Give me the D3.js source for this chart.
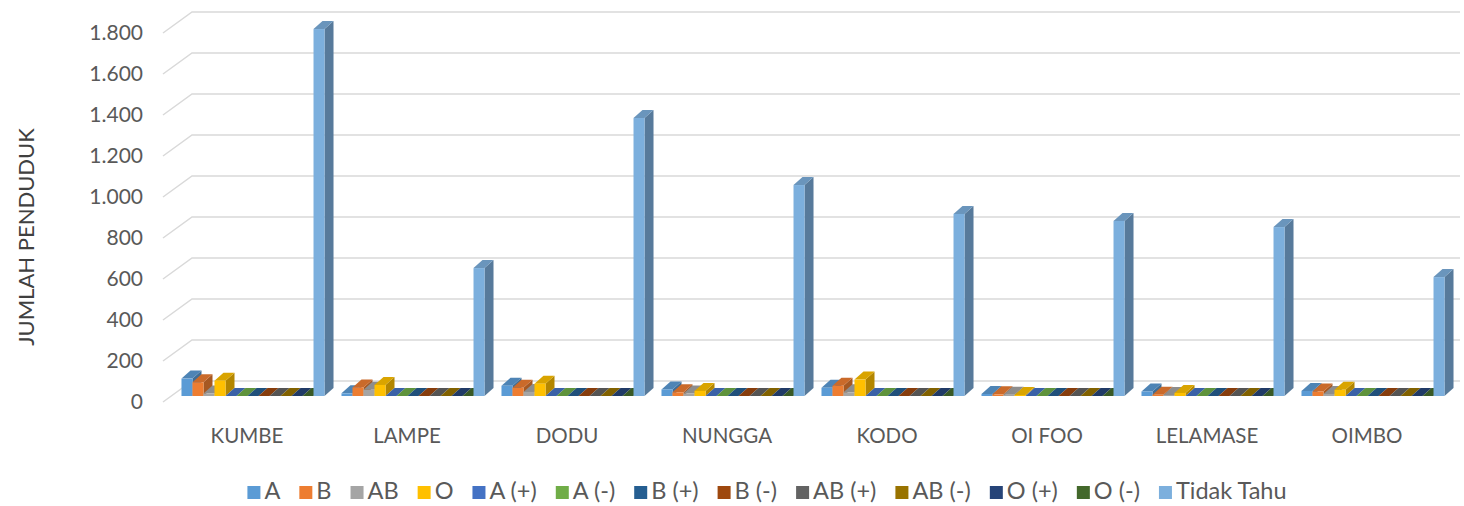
<!DOCTYPE html>
<html><head><meta charset="utf-8">
<script src="https://cdn.jsdelivr.net/npm/d3@7"></script>
<style>body{margin:0;background:#fff;}svg{display:block;font-family:Lato,"Open Sans",sans-serif;}</style>
</head><body>
<svg id="c" width="1464" height="506"></svg>
<script>
const categories = ["KUMBE","LAMPE","DODU","NUNGGA","KODO","OI FOO","LELAMASE","OIMBO"];
const seriesNames = ["A","B","AB","O","A (+)","A (-)","B (+)","B (-)","AB (+)","AB (-)","O (+)","O (-)","Tidak Tahu"];
const seriesColors = ["#5B9BD5","#ED7D31","#A5A5A5","#FFC000","#4472C4","#70AD47","#255E91","#9E480E","#636363","#997300","#264478","#43682B","#7CAFDD"];
const valA  = [85,13,50,32,40,10,22,25];
const valB  = [67,42,40,18,50,8,6,22];
const valAB = [12,30,20,12,18,6,5,10];
const valO  = [75,54,60,25,80,5,15,30];
const valAplus  = [0,0,0,0,0,0,0,0];
const valAminus = [0,0,0,0,0,0,0,0];
const valBplus  = [0,0,0,0,0,0,0,0];
const valBminus = [0,0,0,0,0,0,0,0];
const valABplus = [0,0,0,0,0,0,0,0];
const valABminus= [0,0,0,0,0,0,0,0];
const valOplus  = [0,0,0,0,0,0,0,0];
const valOminus = [0,0,0,0,0,0,0,0];
const valTidakTahu = [1790,624,1356,1029,888,854,824,580];
const yTicks = [0,200,400,600,800,1000,1200,1400,1600,1800];
const yTickLabels = ["0","200","400","600","800","1.000","1.200","1.400","1.600","1.800"];
const yTitle = "JUMLAH PENDUDUK";

const seriesValues = [valA,valB,valAB,valO,valAplus,valAminus,valBplus,valBminus,valABplus,valABminus,valOplus,valOminus,valTidakTahu];

const svg = d3.select("#c");
const wallX = 163, depthX = 29, depthY = -21, wallRight = 1460;
const y = d3.scaleLinear().domain([0,1800]).range([402,33]);
const x0 = d3.scaleBand().domain(categories).range([165,1445]).paddingInner(0.106).paddingOuter(0.053);
const x1 = d3.scaleBand().domain(seriesNames).range([0, x0.bandwidth()]);
const barOff = {dx:8, dy:-6};
const bd = {dx:9, dy:-8};

// gridlines (wall)
const grid = svg.append("g");
yTicks.forEach(t=>{
  const yf = y(t);
  grid.append("path")
    .attr("d", `M${wallX},${yf}L${wallX+depthX},${yf+depthY}L${wallRight},${yf+depthY}`)
    .attr("fill","none").attr("stroke","#D9D9D9").attr("stroke-width",1.5);
});

// y labels
svg.append("g").selectAll("text").data(yTicks).join("text")
  .attr("x",143).attr("y",(d)=>y(d)+2).attr("text-anchor","end").attr("dominant-baseline","middle")
  .attr("font-size",21).attr("fill","#595959").text((d,i)=>yTickLabels[i]);

// y title
svg.append("text").attr("transform","translate(28,237) rotate(-90)")
  .attr("text-anchor","middle").attr("dominant-baseline","middle")
  .attr("font-size",22).attr("fill","#404040").text(yTitle);

// bars
const bars = svg.append("g");
categories.forEach((cat,ci)=>{
  seriesNames.forEach((s,si)=>{
    const v = seriesValues[si][ci];
    const c = seriesColors[si];
    const xl = x0(cat) + x1(s) + barOff.dx;
    const w = x1.bandwidth();
    const yb = y(0) + barOff.dy;
    const yt = y(v) + barOff.dy;
    const xr = xl + w;
    bars.append("path").attr("d",`M${xr},${yb}L${xr+bd.dx},${yb+bd.dy}L${xr+bd.dx},${yt+bd.dy}L${xr},${yt}Z`)
      .attr("fill", d3.color(c).darker(1.0));
    bars.append("path").attr("d",`M${xl},${yt}L${xr},${yt}L${xr+bd.dx},${yt+bd.dy}L${xl+bd.dx},${yt+bd.dy}Z`)
      .attr("fill", d3.color(c).darker(0.45));
    bars.append("rect").attr("x",xl).attr("y",yt).attr("width",w).attr("height",Math.max(0,yb-yt))
      .attr("fill",c);
  });
});

// category labels
svg.append("g").selectAll("text").data(categories).join("text")
  .attr("x",d=>x0(d)+x0.bandwidth()/2+2).attr("y",438).attr("text-anchor","middle").attr("dominant-baseline","middle")
  .attr("font-size",20.5).attr("fill","#595959").text(d=>d);

// legend
const leg = svg.append("g");
let lx = 0;
seriesNames.forEach((s,i)=>{
  const g = leg.append("g").attr("transform",`translate(${lx},0)`);
  g.append("rect").attr("x",0).attr("y",-7).attr("width",13).attr("height",13).attr("fill",seriesColors[i]);
  const t = g.append("text").attr("x",17).attr("y",0).attr("dominant-baseline","middle")
    .attr("font-size",23.5).attr("fill","#595959").text(s);
  const tw = t.node().getComputedTextLength();
  lx += 17 + tw + 19;
});
const total = lx - 19;
leg.attr("transform",`translate(${767 - total/2},493)`);
</script>
</body></html>
